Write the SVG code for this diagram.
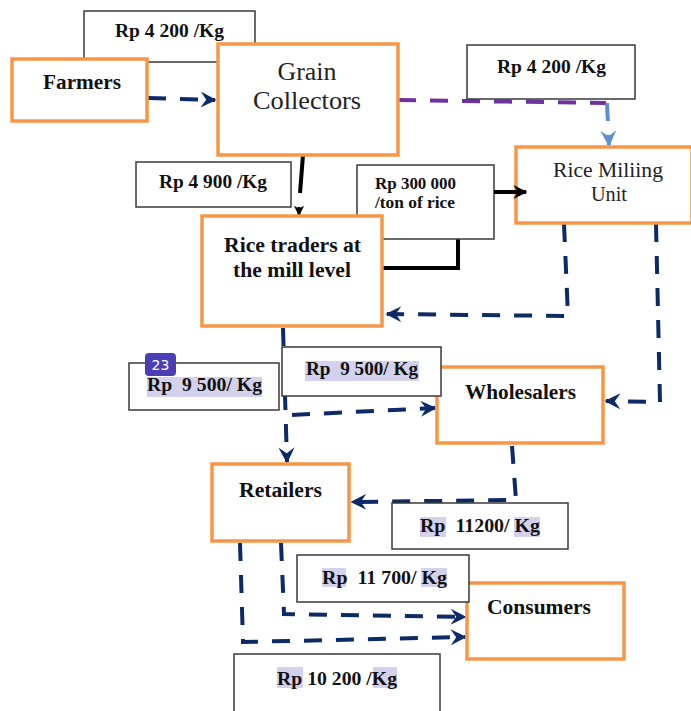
<svg xmlns="http://www.w3.org/2000/svg" width="691" height="711" viewBox="0 0 691 711">
<style>
.node{fill:#fff;stroke:#F79646;stroke-width:3.5}
.price{fill:#fff;stroke:#3a3a3a;stroke-width:1.5}
.hl{fill:#D3D1EC}
.b{font-family:"Liberation Serif",serif;font-weight:bold;fill:#111;text-anchor:middle}
.r{font-family:"Liberation Serif",serif;fill:#222;text-anchor:middle}
.dash{fill:none;stroke:#0B2A66;stroke-width:4;stroke-dasharray:18 14}
.solid{fill:none;stroke:#000;stroke-width:4}
</style>
<defs>
<marker id="ah" viewBox="0 0 10 10" refX="9" refY="5" markerWidth="4" markerHeight="4" orient="auto" markerUnits="strokeWidth">
<path d="M0,0 L10,5 L0,10 L3.5,5 z" fill="#0B2A66"/>
</marker>
<marker id="ahb" viewBox="0 0 10 10" refX="9" refY="5" markerWidth="4" markerHeight="4" orient="auto" markerUnits="strokeWidth">
<path d="M0,0 L10,5 L0,10 L3.5,5 z" fill="#5B8FD0"/>
</marker>
<marker id="ahk" viewBox="0 0 10 10" refX="9" refY="5" markerWidth="3.5" markerHeight="3.5" orient="auto" markerUnits="strokeWidth">
<path d="M0,0 L10,5 L0,10 L3,5 z" fill="#000"/>
</marker>
</defs>

<g id="connectors">
<path class="dash" d="M148,98 L215,100" marker-end="url(#ah)"/>
<path d="M398,100 L606,103" fill="none" stroke="#7030A0" stroke-width="4" stroke-dasharray="18 14"/>
<path d="M607,103 L609,145" fill="none" stroke="#5B8FD0" stroke-width="4" stroke-dasharray="18 14" marker-end="url(#ahb)"/>
<path class="solid" d="M303,155 L300,193"/>
<path d="M299,207 L299,215" stroke="#000" stroke-width="3" marker-end="url(#ahk)"/>
<path class="solid" d="M458,239 L458,268 L382,268"/>
<path class="dash" d="M564,224 L568,316 L387,314" marker-end="url(#ah)"/>
<path class="dash" d="M656,224 L660,402 L606,401" marker-end="url(#ah)"/>
<path class="dash" d="M283,328 L287,462" marker-end="url(#ah)"/>
<path class="dash" d="M292,415 L435,408" marker-end="url(#ah)"/>
<path class="dash" d="M512,446 L516,500 L352,502" marker-end="url(#ah)"/>
<path class="dash" d="M240,543 L243,642 L465,637" marker-end="url(#ah)"/>
<path class="dash" d="M281,543 L284,614 L465,617" marker-end="url(#ah)"/>
</g>

<g id="price-farmers">
<rect class="price" x="84" y="11" width="171" height="51"/>
<text class="b" x="169.5" y="37" font-size="18.5" textLength="109" lengthAdjust="spacingAndGlyphs">Rp 4 200 /Kg</text>
</g>
<g id="price-mill-fee">
<rect class="price" x="357" y="165" width="137" height="74"/>
<text class="b" x="375" y="189" font-size="16.5" style="text-anchor:start" textLength="81" lengthAdjust="spacingAndGlyphs">Rp 300 000</text>
<text class="b" x="375" y="208" font-size="16.5" style="text-anchor:start" textLength="80" lengthAdjust="spacingAndGlyphs">/ton of rice</text>
</g>

<g id="farmers">
<rect class="node" x="12" y="59" width="135" height="62"/>
<text class="b" x="82" y="89" font-size="21" textLength="78" lengthAdjust="spacingAndGlyphs">Farmers</text>
</g>
<g id="grain-collectors">
<rect class="node" x="218" y="44" width="180" height="111"/>
<text class="r" x="307" y="80" font-size="26" textLength="59" lengthAdjust="spacingAndGlyphs">Grain</text>
<text class="r" x="307" y="109" font-size="26" textLength="108" lengthAdjust="spacingAndGlyphs">Collectors</text>
</g>
<g id="price-collectors">
<rect class="price" x="467" y="45" width="168" height="54"/>
<text class="b" x="551.5" y="73" font-size="18.5" textLength="109" lengthAdjust="spacingAndGlyphs">Rp 4 200 /Kg</text>
</g>
<g id="rice-milling-unit">
<rect class="node" x="516" y="147" width="176" height="76"/>
<text class="r" x="608" y="177" font-size="21.5" textLength="110" lengthAdjust="spacingAndGlyphs">Rice Miliing</text>
<text class="r" x="609" y="201" font-size="21.5" textLength="36" lengthAdjust="spacingAndGlyphs">Unit</text>
</g>
<g id="price-traders">
<rect class="price" x="136" y="162" width="155" height="45"/>
<text class="b" x="213" y="188" font-size="18.5" textLength="108" lengthAdjust="spacingAndGlyphs">Rp 4 900 /Kg</text>
</g>
<g id="rice-traders">
<rect class="node" x="202" y="216" width="180" height="110"/>
<text class="b" x="292.5" y="252" font-size="20" textLength="137" lengthAdjust="spacingAndGlyphs">Rice traders at</text>
<text class="b" x="292" y="277" font-size="20" textLength="118" lengthAdjust="spacingAndGlyphs">the mill level</text>
</g>
<g id="wholesalers">
<rect class="node" x="437" y="367" width="166" height="76"/>
<text class="b" x="520.5" y="399" font-size="20" textLength="111" lengthAdjust="spacingAndGlyphs">Wholesalers</text>
</g>
<g id="retailers">
<rect class="node" x="212" y="464" width="137" height="77"/>
<text class="b" x="280.5" y="497" font-size="20" textLength="83" lengthAdjust="spacingAndGlyphs">Retailers</text>
</g>
<g id="consumers">
<rect class="node" x="467" y="583" width="157" height="76"/>
<text class="b" x="539" y="614" font-size="20" textLength="104" lengthAdjust="spacingAndGlyphs">Consumers</text>
</g>

<g id="connectors-over">
<path class="solid" d="M494,192 L526,192" marker-end="url(#ahk)"/>
</g>

<g id="price-retail-left">
<rect class="price" x="129" y="363" width="150" height="47"/>
<rect class="hl" x="147" y="377" width="115" height="20"/>
<text class="b" x="204.5" y="391" font-size="19" xml:space="preserve" textLength="115" lengthAdjust="spacingAndGlyphs">Rp  9 500/ Kg</text>
</g>
<g id="price-wholesale">
<rect class="price" x="282" y="347" width="159" height="49"/>
<rect class="hl" x="305" y="361" width="114" height="20"/>
<text class="b" x="362" y="375" font-size="19" xml:space="preserve" textLength="112" lengthAdjust="spacingAndGlyphs">Rp  9 500/ Kg</text>
</g>
<g id="price-retailers">
<rect class="price" x="392" y="503" width="176" height="46"/>
<rect class="hl" x="420" y="517" width="26" height="20"/>
<rect class="hl" x="514" y="517" width="26" height="20"/>
<text class="b" x="480" y="532" font-size="19" xml:space="preserve" textLength="120" lengthAdjust="spacingAndGlyphs">Rp  11200/ Kg</text>
</g>
<g id="price-consumers-a">
<rect class="price" x="297" y="555" width="172" height="47"/>
<rect class="hl" x="322" y="568" width="24" height="19"/>
<rect class="hl" x="421" y="568" width="26" height="19"/>
<text class="b" x="384.5" y="584" font-size="19" xml:space="preserve" textLength="125" lengthAdjust="spacingAndGlyphs">Rp  11 700/ Kg</text>
</g>
<g id="price-consumers-b">
<rect class="price" x="234" y="654" width="206" height="60"/>
<rect class="hl" x="277" y="667" width="26" height="21"/>
<rect class="hl" x="373" y="667" width="24" height="21"/>
<text class="b" x="337" y="685" font-size="19" textLength="120" lengthAdjust="spacingAndGlyphs">Rp 10 200 /Kg</text>
</g>

<g id="badge-23">
<rect x="145" y="353" width="31" height="23" rx="4" fill="#4B3DB6"/>
<text x="160.5" y="370" font-family="'DejaVu Sans',sans-serif" font-size="14" fill="#fff" text-anchor="middle">23</text>
</g>
</svg>
